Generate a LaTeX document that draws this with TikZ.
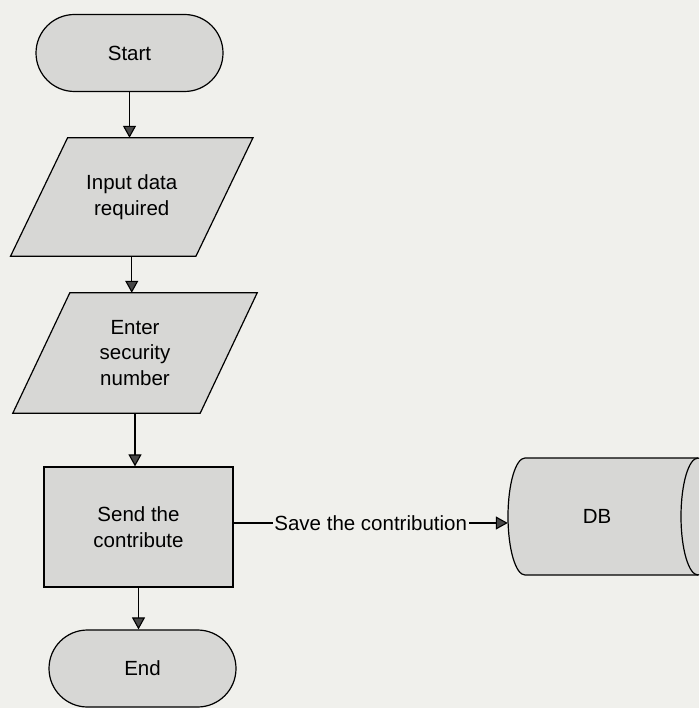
\documentclass[tikz,border=0pt]{standalone}
\usepackage{fontspec}
\setmainfont{Liberation Sans}
\usetikzlibrary{arrows.meta,backgrounds}
\definecolor{paper}{HTML}{F0F0EC}
\definecolor{boxfill}{HTML}{D7D7D5}
\tikzset{
  x=1pt, y=1pt,
  lbl/.style={font=\fontsize{20.5}{25.5}\selectfont, align=center, inner sep=0pt},
  terminal/.style={lbl, draw, fill=boxfill, rounded corners=38.5pt,
    minimum width=187pt, minimum height=77pt, line width=1.2pt},
  process/.style={lbl, draw, fill=boxfill, minimum width=189pt,
    minimum height=120pt, line width=1.2pt},
  iobox/.style={lbl, minimum width=185pt},
  flow/.style={line width=1.1pt, -{Triangle[width=13pt,length=12pt,fill=black!72]}},
  outline/.style={draw, fill=boxfill, line width=1.2pt},
  edgelabel/.style={lbl, fill=paper, inner sep=1.5pt},
}
\begin{document}
\begin{tikzpicture}
\useasboundingbox (0,0) rectangle (699,-708);

% flowchart nodes
\node[terminal] (start) at (129.5,-53) {Start};
\node[iobox, minimum height=118pt] (inp) at (131.75,-197) {Input data\\required};
\node[iobox, minimum height=120pt, minimum width=187pt] (sec) at (135,-353) {Enter\\security\\number};
\node[process] (send) at (138.5,-527) {Send the\\contribute};
\node[terminal] (stop) at (142.5,-668.5) {End};
\node[lbl, minimum width=178pt, minimum height=117pt] (db) at (597,-516.5) {DB};

% shapes drawn behind the texts: page, parallelograms, database drum
\begin{scope}[on background layer]
  \fill[paper] (0,0) rectangle (699,-708);
  \foreach \n in {inp,sec} {
    \draw[outline] ([xshift=28.5pt]\n.north west) -- ([xshift=28.5pt]\n.north east)
      -- ([xshift=-28.5pt]\n.south east) -- ([xshift=-28.5pt]\n.south west) -- cycle;
  }
  \begin{scope}
    \clip (0,0) rectangle (699,-708);
    \draw[outline] (525,-458) -- (698,-458)
      arc[start angle=90, end angle=-90, x radius=17, y radius=58.5]
      -- (525,-575)
      arc[start angle=270, end angle=90, x radius=17, y radius=58.5] -- cycle;
    \draw[line width=1.2pt] (698,-458)
      arc[start angle=90, end angle=270, x radius=17, y radius=58.5];
  \end{scope}
\end{scope}

% connectors
\draw[flow] (start.south) -- (start.south |- inp.north);
\draw[flow] (inp.south) -- (inp.south |- sec.north);
\draw[flow] (sec.south) -- (sec.south |- send.north);
\draw[flow] (send.south) -- (send.south |- stop.north);
\draw[flow] ([yshift=4pt]send.east) -- node[edgelabel] {Save the contribution}
  ([yshift=4pt]send.east -| db.west);
\end{tikzpicture}
\end{document}
